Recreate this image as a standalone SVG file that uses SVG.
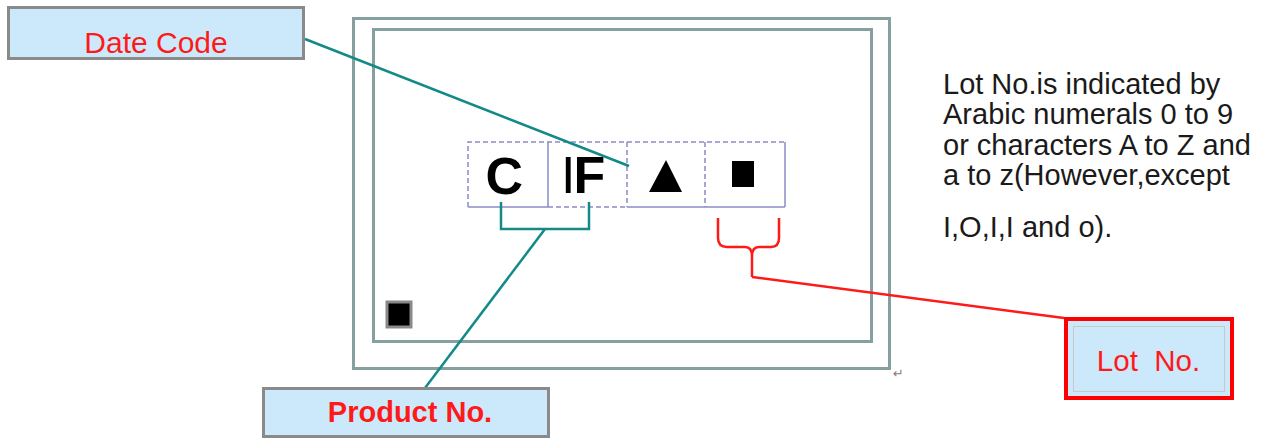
<svg xmlns="http://www.w3.org/2000/svg" width="1269" height="439" viewBox="0 0 1269 439">
  <style>
    .label { font-family: "Liberation Sans", Arial, sans-serif; fill: #ff1a1a; text-anchor: middle; }
    .lblbox { fill: #cce9fb; stroke: #8a8a8a; stroke-width: 3; }
    .frame { fill: none; stroke: #869f9f; stroke-width: 3; }
    .cell { fill: none; stroke: #8c8cc8; stroke-width: 1.5; }
    .dash { stroke-dasharray: 5 3; }
    .teal { fill: none; stroke: #118a88; stroke-width: 2.5; }
    .red { fill: none; stroke: #ff1a1a; stroke-width: 2.5; }
    .mark { font-family: "Liberation Sans", Arial, sans-serif; font-weight: bold; fill: #000; font-size: 52px; }
    .note { font-family: "Liberation Sans", Arial, sans-serif; font-size: 29px; fill: #1a1a1a; }
  </style>

  <g id="chip">
    <rect class="frame" x="353.5" y="18.5" width="536" height="350"/>
    <rect class="frame" x="373.5" y="29.5" width="498" height="312"/>
    <rect x="387" y="302" width="24" height="25" fill="#000" stroke="#8a8a8a" stroke-width="3"/>
    <text x="893" y="378" font-family="DejaVu Sans, sans-serif" font-size="13" fill="#808080">↵</text>
  </g>

  <g id="marking">
    <path class="cell dash" d="M468,207 V142 H785 M627,142 V207 M705,142 V207"/>
    <path class="cell" d="M548,142 V207 M785,142 V207 M468,207 H548 M627,207 H782 M710,207 H785"/>
    <path class="cell dash" d="M548,207 H627"/>
    <text class="mark" x="485.5" y="194">C</text>
    <text class="mark" x="561" y="193" letter-spacing="-2"><tspan font-weight="normal">I</tspan>F</text>
    <polygon points="649,192 666,160 682,192" fill="#000"/>
    <rect x="732" y="161" width="22" height="26" fill="#000"/>
  </g>

  <g id="note">
    <text class="note" x="943" y="94">Lot No.is indicated by</text>
    <text class="note" x="943" y="124">Arabic numerals 0 to 9</text>
    <text class="note" x="943" y="155">or characters A to Z and</text>
    <text class="note" x="943" y="185">a to z(However,except</text>
    <text class="note" x="943" y="237">I,O,I,I and o).</text>
  </g>

  <g id="connectors">
    <line class="teal" x1="305" y1="39" x2="629" y2="166"/>
    <path class="teal" d="M501,202 V229 H589 V202"/>
    <line class="teal" x1="545" y1="229" x2="425" y2="388"/>
    <path class="red" d="M718,218 V238 Q718,247 727,247 H745 Q752,247 752,256 V277 M752,256 Q752,247 759,247 H771 Q779,247 779,238 V218"/>
    <line class="red" x1="752" y1="277" x2="1064" y2="318"/>
  </g>

  <g id="date-code">
    <rect class="lblbox" x="8.5" y="7.5" width="295" height="51"/>
    <text class="label" x="156" y="53" font-size="30">Date Code</text>
  </g>

  <g id="product-no">
    <rect class="lblbox" x="263.5" y="388.5" width="285" height="48"/>
    <text class="label" x="410" y="422" font-size="29" font-weight="bold">Product No.</text>
  </g>

  <g id="lot-no">
    <rect x="1066" y="319" width="166" height="79" fill="#cce9fb" stroke="#ff0000" stroke-width="4"/>
    <rect x="1073.5" y="326.5" width="151" height="65" fill="none" stroke="#c8c8c8" stroke-width="1"/>
    <text class="label" x="1148.5" y="371" font-size="29.5" xml:space="preserve">Lot  No.</text>
  </g>
</svg>
